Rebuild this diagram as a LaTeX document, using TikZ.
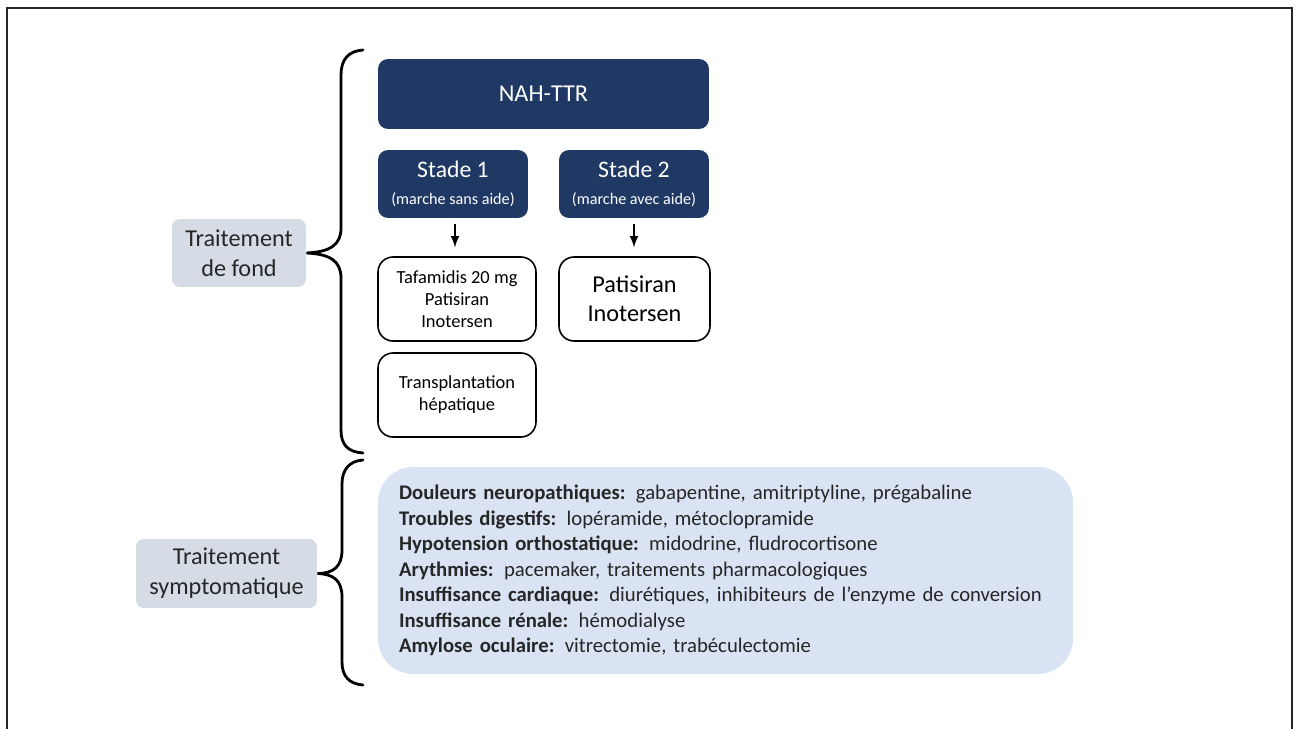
\documentclass[tikz,border=0pt]{standalone}
\usepackage{fontspec}
\setmainfont{Carlito}

\definecolor{navy}{HTML}{203864}
\definecolor{labelgrey}{HTML}{D6DCE5}
\definecolor{symblue}{HTML}{DAE3F3}
\definecolor{txtgrey}{HTML}{262626}

\begin{document}
\begin{tikzpicture}[x=0.02cm,y=-0.02cm,
    darkbox/.style={fill=navy,text=white,rounded corners=0.2cm,align=center,inner sep=0pt},
    drugbox/.style={draw,line width=0.9pt,rounded corners=0.3cm,fill=white,align=center,
        inner sep=0pt,minimum height=1.68cm,font=\fontsize{10.5}{12.6}\selectfont},
    labelbox/.style={fill=labelgrey,text=txtgrey,rounded corners=0.16cm,align=center,
        inner sep=0pt,font=\fontsize{13.8}{17}\selectfont},
    symbox/.style={fill=symblue,text=txtgrey,rounded corners=0.7cm,align=left,
        text width=13.06cm,inner xsep=0.42cm,minimum height=4.14cm,
        font=\fontsize{11.8}{14.5}\selectfont},
    brace/.style={line width=1.6pt,line cap=round},
    arr/.style={-latex,line width=1.2pt,shorten <=3pt,shorten >=5pt}]
    \useasboundingbox (0,0) rectangle (1296,729);
    \draw[line width=1.1pt,black!85] (7,735) -- (7,8) -- (1292,8) -- (1292,735);

    \node[labelbox,minimum width=2.68cm,minimum height=1.36cm] (fond) at (239,253) {Traitement\\de fond};
    \node[labelbox,minimum width=3.62cm,minimum height=1.38cm] (sympto) at (226.5,573.5) {Traitement\\symptomatique};

    \node[darkbox,minimum width=6.62cm,minimum height=1.4cm,font=\fontsize{13.8}{15}\selectfont] (nah) at (543.5,94) {NAH-TTR};
    \node[darkbox,minimum width=3cm,minimum height=1.36cm] (st1) at (453,184)
        {{\fontsize{13.5}{16}\selectfont Stade 1}\\[3pt]{\fontsize{9.2}{11}\selectfont (marche sans aide)}};
    \node[darkbox,minimum width=3cm,minimum height=1.36cm] (st2) at (634,184)
        {{\fontsize{13.5}{16}\selectfont Stade 2}\\[3pt]{\fontsize{9.2}{11}\selectfont (marche avec aide)}};

    \node[drugbox,minimum width=3.16cm] (taf) at (457,299) {Tafamidis 20 mg\\Patisiran\\Inotersen};
    \node[drugbox,minimum width=3.02cm,font=\fontsize{13.8}{16.4}\selectfont] (pat) at (634.5,299) {Patisiran\\Inotersen};
    \node[drugbox,minimum width=3.16cm] (hep) at (457,395) {Transplantation\\hépatique};

    \draw[arr] (st1.south -| 455,0) -- (taf.north -| 455,0);
    \draw[arr] (st2.south) -- (pat.north -| st2.south);

    \node[symbox] (liste) at (725.5,570.5) {\textbf{Douleurs neuropathiques:} gabapentine, amitriptyline, prégabaline\\
        \textbf{Troubles digestifs:} lopéramide, métoclopramide\\
        \textbf{Hypotension orthostatique:} midodrine, fludrocortisone\\
        \textbf{Arythmies:} pacemaker, traitements pharmacologiques\\
        \textbf{Insuffisance cardiaque:} diurétiques, inhibiteurs de l’enzyme de conversion\\
        \textbf{Insuffisance rénale:} hémodialyse\\
        \textbf{Amylose oculaire:} vitrectomie, trabéculectomie};

    \draw[brace] (363,50) .. controls (348,51) and (341,60) .. (341,75) -- (341,228)
        .. controls (341,245) and (330,252) .. (fond.east)
        .. controls (330,254) and (341,261) .. (341,278) -- (341,430)
        .. controls (341,445) and (348,452) .. (363,453);
    \draw[brace] (363,460) .. controls (349,461) and (342,470) .. (342,484) -- (342,550)
        .. controls (342,567) and (333,573.5) .. (sympto.east)
        .. controls (333,574) and (342,580) .. (342,597) -- (342,662)
        .. controls (342,676) and (349,684) .. (363,685);
\end{tikzpicture}
\end{document}
